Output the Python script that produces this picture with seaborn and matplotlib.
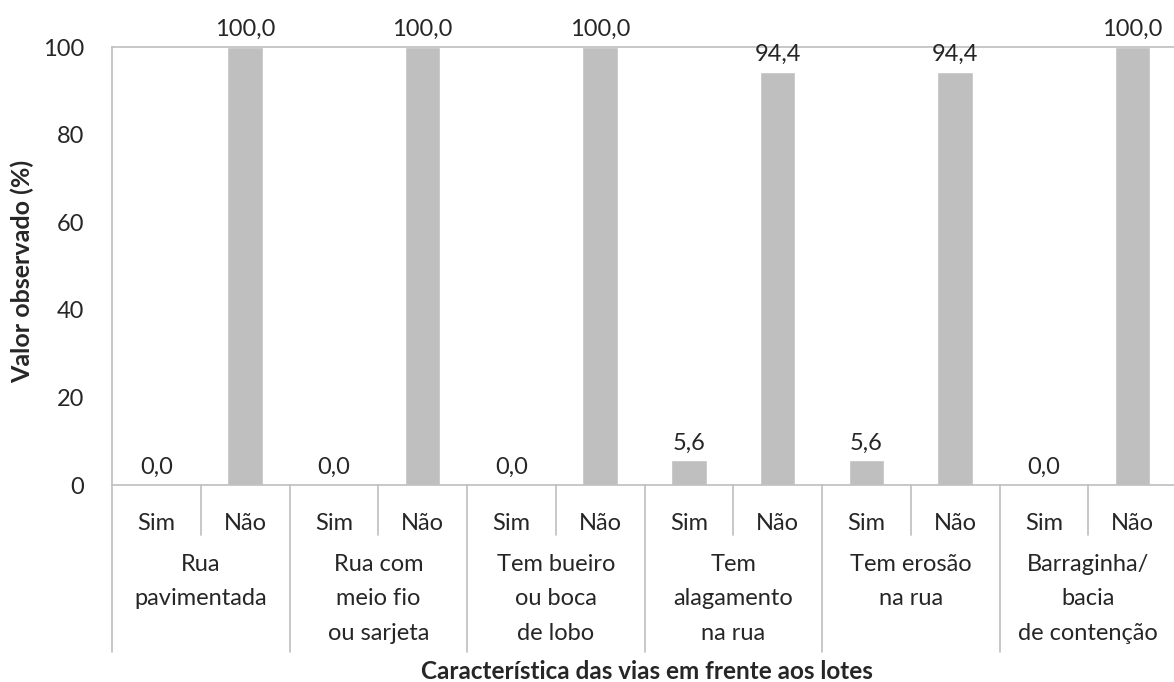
import pandas as pd
import seaborn as sns
import matplotlib.pyplot as plt
import matplotlib.transforms as mtransforms

# dados
grupos = ["Rua\npavimentada", "Rua com\nmeio fio\nou sarjeta", "Tem bueiro\nou boca\nde lobo",
          "Tem\nalagamento\nna rua", "Tem erosão\nna rua", "Barraginha/\nbacia\nde contenção"]
respostas = ["Sim", "Não"]
sim = [0.0, 0.0, 0.0, 5.6, 5.6, 0.0]
nao = [100.0, 100.0, 100.0, 94.4, 94.4, 100.0]

linhas = []
for i, g in enumerate(grupos):
    linhas.append({"pos": f"{i}-Sim", "resp": "Sim", "valor": sim[i]})
    linhas.append({"pos": f"{i}-Não", "resp": "Não", "valor": nao[i]})
df = pd.DataFrame(linhas)

sns.set_style("white")
plt.rcParams['font.family'] = ['Lato', 'DejaVu Sans']
fs = 17

fig = plt.figure(figsize=(11.74, 6.82), dpi=100)
ax = fig.add_axes([112 / 1174, 1 - 485 / 682, (1177 - 112) / 1174, (485 - 47) / 682])

sns.barplot(data=df, x="pos", y="valor", color="#bfbfbf", width=0.4, ax=ax,
            saturation=1, errorbar=None)

rotulos = [f"{v:.1f}".replace(".", ",") for v in df["valor"]]
ax.bar_label(ax.containers[0], labels=rotulos, padding=5, fontsize=fs)

ax.set_ylim(0, 100)
ax.set_yticks(range(0, 101, 20))
ax.set_xlim(-0.5, len(df) - 0.5)
ax.tick_params(axis="y", labelsize=fs, length=0, pad=20)
ax.set_xticks(range(len(df)))
ax.set_xticklabels(df["resp"], fontsize=fs)
ax.tick_params(axis="x", length=0, pad=20)

for s in ["left", "top", "bottom", "right"]:
    ax.spines[s].set_color("#bfbfbf")
    ax.spines[s].set_linewidth(1.2)

# separadores e rótulos dos grupos abaixo do eixo
trans = mtransforms.blended_transform_factory(ax.transData, ax.transAxes)
px = 1 / (485 - 47)
for i in range(len(df) + 1):
    x = i - 0.5
    baixo = -167 * px if i % 2 == 0 else -50 * px
    ax.plot([x, x], [0, baixo], color="#bfbfbf", lw=1.2, transform=trans, clip_on=False)
for i, g in enumerate(grupos):
    ax.text(2 * i + 0.5, -69 * px, g, transform=trans, ha="center", va="top",
            fontsize=fs, linespacing=1.78)

ax.set_ylabel("")
ax.set_xlabel("")
fig.text(22 / 1174, 1 - 271 / 682, "Valor observado (%)", rotation=90,
         ha="center", va="center", fontsize=18, fontweight="bold")
fig.text(647 / 1174, 1 - 679 / 682, "Característica das vias em frente aos lotes",
         ha="center", va="baseline", fontsize=17.5, fontweight="bold")

fig.savefig("out.png", dpi=100)
